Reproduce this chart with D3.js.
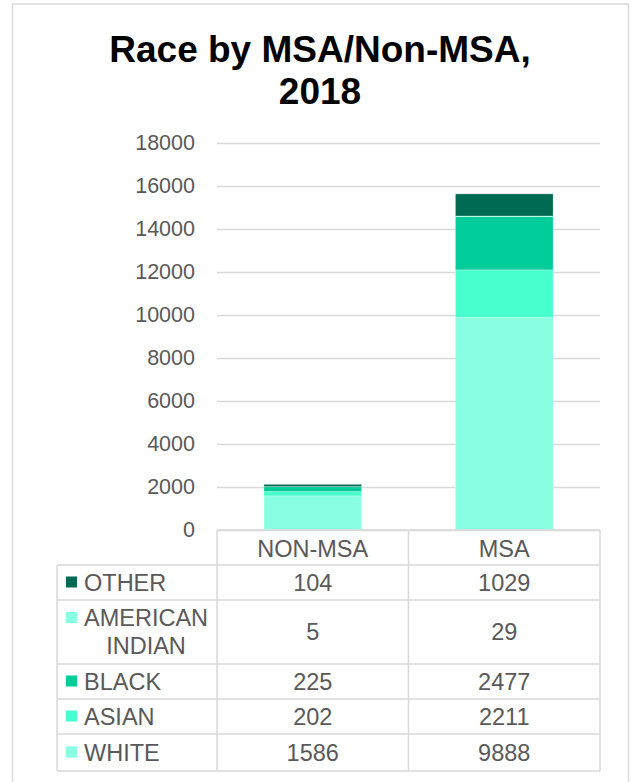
<!DOCTYPE html>
<html>
<head>
<meta charset="utf-8">
<script src="https://cdn.jsdelivr.net/npm/d3@7"></script>
<style>
  body { margin: 0; background: #fff; }
  text { font-family: "Liberation Sans", Arial, sans-serif; }
</style>
</head>
<body>
<div id="chart"></div>
<script>
// data
var categories = ["NON-MSA", "MSA"];
var races = ["OTHER", "AMERICAN INDIAN", "BLACK", "ASIAN", "WHITE"]; // table order (top to bottom)
var other = [104, 1029];
var americanIndian = [5, 29];
var black = [225, 2477];
var asian = [202, 2211];
var white = [1586, 9888];
var yTicks = [0, 2000, 4000, 6000, 8000, 10000, 12000, 14000, 16000, 18000];

var colors = {
    "OTHER": "#006b52",
    "AMERICAN INDIAN": "#88ffe0",
    "BLACK": "#00cc99",
    "ASIAN": "#48ffce",
    "WHITE": "#88ffe0"
};
var values = {
    "OTHER": other,
    "AMERICAN INDIAN": americanIndian,
    "BLACK": black,
    "ASIAN": asian,
    "WHITE": white
};

var width = 636, height = 782;
var plotLeft = 217, plotRight = 600, plotTop = 143, plotBottom = 530;
var gridColor = "#d9d9d9", textColor = "#595959";
var tableFont = "23.5px";

var svg = d3.select("#chart")
    .append("svg")
    .attr("width", width)
    .attr("height", height);

// chart border
svg.append("rect")
    .attr("x", 12.5)
    .attr("y", 4)
    .attr("width", 616)
    .attr("height", 800)
    .attr("fill", "#fff")
    .attr("stroke", gridColor)
    .attr("stroke-width", 1.5);

// title
var title = svg.append("text")
    .attr("text-anchor", "middle")
    .style("font-size", "37px")
    .style("font-weight", "bold")
    .attr("fill", "#000");
title.append("tspan").attr("x", 320).attr("y", 62).text("Race by MSA/Non-MSA,");
title.append("tspan").attr("x", 320).attr("y", 104).text("2018");

var x = d3.scaleBand()
    .domain(categories)
    .range([plotLeft, plotRight])
    .paddingInner(0.49)
    .paddingOuter(0.245);

var y = d3.scaleLinear()
    .domain([0, 18000])
    .range([plotBottom, plotTop]);

// gridlines
svg.append("g")
    .attr("transform", "translate(" + plotLeft + ",0)")
    .call(d3.axisLeft(y).tickValues(yTicks).tickSize(-(plotRight - plotLeft)).tickFormat(""))
    .call(g => g.select(".domain").remove())
    .call(g => g.selectAll("line").attr("stroke", gridColor).attr("stroke-width", 1.5));

// y labels
svg.append("g")
    .attr("transform", "translate(195,0)")
    .call(d3.axisLeft(y).tickValues(yTicks).tickSize(0).tickPadding(0).tickFormat(d3.format("d")))
    .call(g => g.select(".domain").remove())
    .call(g => g.selectAll("text")
        .attr("fill", textColor)
        .style("font-size", "21.5px")
        .style("font-family", "'Liberation Sans', Arial, sans-serif"));

// stacked bars (bottom first)
var stackKeys = races.slice().reverse();
var tableData = categories.map(function (c, i) {
    var row = { category: c };
    stackKeys.forEach(function (k) { row[k] = values[k][i]; });
    return row;
});
var series = d3.stack().keys(stackKeys)(tableData);

svg.append("g")
    .selectAll("g")
    .data(series)
    .enter()
    .append("g")
    .attr("fill", function (d) { return colors[d.key]; })
    .selectAll("rect")
    .data(function (d) { return d; })
    .enter()
    .append("rect")
    .attr("x", function (d) { return x(d.data.category); })
    .attr("width", x.bandwidth())
    .attr("y", function (d) { return y(d[1]); })
    .attr("height", function (d) { return y(d[0]) - y(d[1]); })
    .attr("stroke", "rgba(255,255,255,0.35)")
    .attr("stroke-width", 0.75);

// data table
var tableLeft = 57;
var colEdges = [plotLeft].concat(categories.map(function (c, i) { return plotLeft + (i + 1) * (plotRight - plotLeft) / categories.length; }));
var headerBottom = 565;
var rowLines = { "AMERICAN INDIAN": 2 };
var lineH = 28, rowH = 35;
var rowTops = [];
var yy = headerBottom;
races.forEach(function (r) {
    rowTops.push(yy);
    yy += (rowLines[r] || 1) === 2 ? 64 : (r === "WHITE" ? 37 : rowH);
});
var tableBottom = yy;

var table = svg.append("g");

// header row
table.append("line")
    .attr("x1", plotLeft).attr("x2", plotRight)
    .attr("y1", plotBottom).attr("y2", plotBottom);
colEdges.forEach(function (cx) {
    table.append("line")
        .attr("x1", cx).attr("x2", cx)
        .attr("y1", plotBottom).attr("y2", tableBottom);
});
table.append("line")
    .attr("x1", tableLeft).attr("x2", tableLeft)
    .attr("y1", headerBottom).attr("y2", tableBottom);
rowTops.concat([tableBottom]).forEach(function (ry) {
    table.append("line")
        .attr("x1", tableLeft).attr("x2", plotRight)
        .attr("y1", ry).attr("y2", ry);
});
table.selectAll("line")
    .attr("stroke", gridColor)
    .attr("stroke-width", 1.5);

categories.forEach(function (c, i) {
    table.append("text")
        .attr("x", (colEdges[i] + colEdges[i + 1]) / 2)
        .attr("y", (plotBottom + headerBottom) / 2 + 1)
        .attr("dy", "0.35em")
        .attr("text-anchor", "middle")
        .attr("fill", textColor)
        .style("font-size", tableFont)
        .text(c);
});

races.forEach(function (r, ri) {
    var top = rowTops[ri];
    var bottom = ri + 1 < rowTops.length ? rowTops[ri + 1] : tableBottom;
    var nLines = rowLines[r] || 1;
    var firstY = (top + bottom) / 2 - (nLines - 1) * lineH / 2;

    table.append("rect")
        .attr("x", 66)
        .attr("y", firstY - 6)
        .attr("width", 11)
        .attr("height", 11)
        .attr("fill", colors[r]);

    if (nLines === 1) {
        table.append("text")
            .attr("x", 84)
            .attr("y", firstY)
            .attr("dy", "0.35em")
            .attr("fill", textColor)
            .style("font-size", tableFont)
            .text(r);
    } else {
        var words = r.split(" ");
        table.append("text")
            .attr("x", 84)
            .attr("y", firstY)
            .attr("dy", "0.35em")
            .attr("fill", textColor)
            .style("font-size", tableFont)
            .text(words[0]);
        table.append("text")
            .attr("x", 146)
            .attr("y", firstY + lineH)
            .attr("dy", "0.35em")
            .attr("text-anchor", "middle")
            .attr("fill", textColor)
            .style("font-size", tableFont)
            .text(words.slice(1).join(" "));
    }

    categories.forEach(function (c, i) {
        table.append("text")
            .attr("x", (colEdges[i] + colEdges[i + 1]) / 2)
            .attr("y", (top + bottom) / 2)
            .attr("dy", "0.35em")
            .attr("text-anchor", "middle")
            .attr("fill", textColor)
            .style("font-size", tableFont)
            .text(values[r][i]);
    });
});
</script>
</body>
</html>
